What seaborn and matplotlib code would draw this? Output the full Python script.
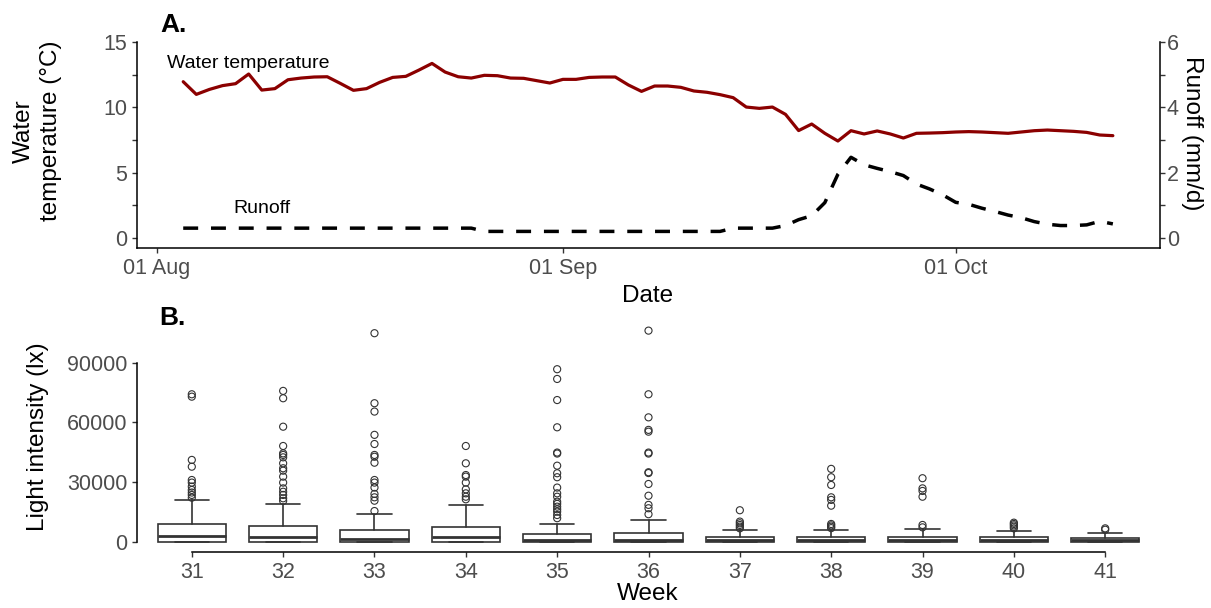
import matplotlib
matplotlib.use("Agg")
import matplotlib.pyplot as plt
import matplotlib.dates as mdates
from matplotlib.ticker import FixedLocator
import numpy as np
import pandas as pd
import seaborn as sns

# ---------------- data ----------------
dates = pd.date_range("2019-08-03", "2019-10-13", freq="D")

water_temp = [11.96, 10.99, 11.37, 11.66, 11.81, 12.55, 11.32, 11.43, 12.11, 12.24,
              12.32, 12.34, 11.83, 11.30, 11.43, 11.91, 12.29, 12.37, 12.85, 13.36,
              12.70, 12.34, 12.24, 12.45, 12.42, 12.24, 12.22, 12.04, 11.86, 12.14,
              12.14, 12.29, 12.32, 12.32, 11.71, 11.22, 11.63, 11.63, 11.53, 11.25,
              11.15, 10.97, 10.74, 10.02, 9.92, 10.02, 9.46, 8.22, 8.72, 8.01,
              7.42, 8.21, 7.96, 8.19, 7.96, 7.65, 8.01, 8.03, 8.06, 8.11,
              8.14, 8.11, 8.06, 8.01, 8.11, 8.21, 8.26, 8.21, 8.16, 8.08,
              7.88, 7.83]

runoff = [0.30, 0.30, 0.30, 0.30, 0.30, 0.30, 0.30, 0.30, 0.30, 0.30,
          0.30, 0.30, 0.30, 0.30, 0.30, 0.30, 0.30, 0.30, 0.30, 0.30,
          0.30, 0.30, 0.30, 0.20, 0.20, 0.20, 0.20, 0.20, 0.20, 0.20,
          0.20, 0.20, 0.20, 0.20, 0.20, 0.20, 0.20, 0.20, 0.20, 0.20,
          0.20, 0.20, 0.30, 0.30, 0.30, 0.30, 0.38, 0.56, 0.68, 1.08,
          1.95, 2.47, 2.24, 2.13, 2.03, 1.91, 1.65, 1.50, 1.32, 1.09,
          1.03, 0.91, 0.81, 0.70, 0.62, 0.50, 0.42, 0.38, 0.38, 0.40,
          0.51, 0.43]

weeks = [31, 32, 33, 34, 35, 36, 37, 38, 39, 40, 41]
week_labels = ["31", "32", "33", "34", "35", "36", "37", "38", "39", "40", "41"]
light_q1 = [0, 0, 0, 0, 0, 0, 0, 0, 0, 0, 0]
light_median = [3000, 2200, 1500, 2200, 850, 850, 700, 700, 700, 700, 700]
light_q3 = [8750, 7900, 5900, 7550, 3870, 4550, 2500, 2350, 2500, 2350, 2000]
light_whisker_low = [0, 0, 0, 0, 0, 0, 0, 0, 0, 0, 0]
light_whisker_high = [20970, 18950, 13800, 18600, 9050, 10900, 5900, 5700, 6200, 5400, 4350]

outliers_31 = [74100, 72900, 41100, 37700, 31000, 29700, 27700, 26000, 24700, 23500, 22100]
outliers_32 = [75800, 72100, 57800, 48100, 44400, 43600, 42400, 39400, 36900, 35700,
               32700, 29700, 26800, 25100, 23500, 21800, 20500]
outliers_33 = [104800, 69600, 65400, 53700, 49100, 43600, 42700, 39700, 31000, 29700,
               27200, 24000, 22300, 20600, 15400]
outliers_34 = [48100, 39400, 33500, 32700, 29700, 26300, 24300, 22600, 21300]
outliers_35 = [86700, 81800, 71200, 57500, 44800, 44300, 38200, 34400, 32400, 27200,
               24300, 22600, 20100, 19000, 17600, 16300, 15100, 13400, 11800]
outliers_36 = [106100, 74100, 62500, 56200, 55300, 44800, 44300, 34900, 34500, 29000,
               23100, 18500, 16800, 13800]
outliers_37 = [15800, 10100, 9250, 8400, 7550, 6700]
outliers_38 = [36600, 32400, 28500, 22300, 21000, 18100, 8900, 8200, 7500, 6800]
outliers_39 = [31900, 26800, 25500, 22600, 8400, 7200]
outliers_40 = [9550, 8900, 8200, 7500, 6700]
outliers_41 = [6700, 6000]
outliers = [outliers_31, outliers_32, outliers_33, outliers_34, outliers_35, outliers_36,
            outliers_37, outliers_38, outliers_39, outliers_40, outliers_41]

temp_ticks = [0, 5, 10, 15]
runoff_ticks = [0, 2, 4, 6]
light_ticks = [0, 30000, 60000, 90000]
light_tick_labels = ["0", "30000", "60000", "90000"]

# ---------------- style ----------------
sns.set_theme(style="ticks")
plt.rcParams["font.family"] = ["Liberation Sans", "DejaVu Sans"]
plt.rcParams["text.color"] = "black"

W, H = 1211, 608
fig = plt.figure(figsize=(W / 100, H / 100), dpi=100)

AX_COL = "#000000"
TICK_COL = "#333333"
LAB_COL = "#4D4D4D"
TICK_FS = 15.5
TITLE_FS = 17.5


def px(x, y):
    return x / W, 1 - y / H


def style_ticks(ax):
    ax.tick_params(which="both", length=3.5, width=1.0, color=TICK_COL,
                   labelcolor=LAB_COL, labelsize=TICK_FS, pad=3.5)


# ---------------- panel A ----------------
axA = fig.add_axes([137 / W, 1 - 248 / H, (1160 - 137) / W, (248 - 42) / H])
sns.lineplot(x=dates, y=water_temp, color="#8B0000", linewidth=2.3, ax=axA)
axA.set_ylim(-0.77, 15)
axA.set_xlim(pd.Timestamp("2019-08-01") - pd.Timedelta(days=1.53),
             pd.Timestamp("2019-08-01") + pd.Timedelta(days=76.6))
axA.set_yticks(temp_ticks)
axA.yaxis.set_minor_locator(FixedLocator([2.5, 7.5, 12.5]))
axA.xaxis.set_major_locator(mdates.MonthLocator(bymonthday=1))
axA.xaxis.set_major_formatter(mdates.DateFormatter("%d %b"))
axA.set_xlabel("")
axA.set_ylabel("")
for s in ["top", "right"]:
    axA.spines[s].set_visible(False)
for s in ["left", "bottom"]:
    axA.spines[s].set_color(AX_COL)
    axA.spines[s].set_linewidth(1.1)
style_ticks(axA)

axR = axA.twinx()
sns.lineplot(x=dates, y=runoff, color="black", linewidth=2.5, ax=axR)
axR.lines[0].set_dashes((4.3, 3.7))
axR.lines[0].set_dash_capstyle("butt")
axR.set_ylim(-0.77 / 2.5, 6)
axR.set_yticks(runoff_ticks)
axR.yaxis.set_minor_locator(FixedLocator([1, 3, 5]))
axR.set_ylabel("")
for s in ["top", "left", "bottom"]:
    axR.spines[s].set_visible(False)
axR.spines["right"].set_color(AX_COL)
axR.spines["right"].set_linewidth(1.1)
style_ticks(axR)
axR.tick_params(axis="y", pad=1.5)

axA.text(pd.Timestamp("2019-08-08"), 12.98, "Water temperature", ha="center",
         va="baseline", fontsize=14, color="black")
axA.text(pd.Timestamp("2019-08-09"), 1.91, "Runoff", ha="center",
         va="baseline", fontsize=14, color="black")

fig.text(*px(648, 302), "Date", ha="center", va="baseline", fontsize=TITLE_FS)
fig.text(*px(37.5, 131), "Water\ntemperature (\u00b0C)", rotation=90, ha="center",
         va="center", multialignment="center", fontsize=TITLE_FS, linespacing=1.3)
fig.text(*px(1192, 133), "Runoff (mm/d)", rotation=270, ha="center", va="center",
         fontsize=TITLE_FS)
fig.text(*px(160, 32), "A.", fontweight="bold", fontsize=19, ha="left", va="baseline")

# ---------------- panel B ----------------
axB = fig.add_axes([137 / W, 1 - 552.3 / H, (1160 - 137) / W, (552.3 - 318.4) / H])
stats = []
for i in range(len(weeks)):
    stats.append(dict(med=light_median[i], q1=light_q1[i], q3=light_q3[i],
                      whislo=light_whisker_low[i], whishi=light_whisker_high[i],
                      fliers=[]))
box_col = "#333333"
axB.bxp(stats, positions=weeks, widths=0.75, capwidths=0.375, showfliers=False,
        patch_artist=True, manage_ticks=False,
        boxprops=dict(facecolor="white", edgecolor=box_col, linewidth=1.2),
        medianprops=dict(color=box_col, linewidth=2.0, solid_capstyle="butt"),
        whiskerprops=dict(color=box_col, linewidth=1.2),
        capprops=dict(color=box_col, linewidth=1.2))

flier_df = pd.DataFrame({
    "week": [w for w, vals in zip(weeks, outliers) for _ in vals],
    "lux": [v for vals in outliers for v in vals],
})
sns.scatterplot(data=flier_df, x="week", y="lux", ax=axB, marker="o", s=26,
                facecolor="none", edgecolor=box_col, linewidth=0.8, zorder=3)

axB.set_xlim(30.4, 41.6)
axB.set_ylim(-5345, 112245)
axB.set_xticks(weeks)
axB.set_xticklabels(week_labels)
axB.set_yticks(light_ticks)
axB.set_yticklabels(light_tick_labels)
axB.set_xlabel("")
axB.set_ylabel("")
for s in ["top", "right"]:
    axB.spines[s].set_visible(False)
for s in ["left", "bottom"]:
    axB.spines[s].set_color(AX_COL)
    axB.spines[s].set_linewidth(1.1)
axB.spines["left"].set_bounds(0, 90000)
axB.spines["bottom"].set_bounds(31, 41)
style_ticks(axB)

fig.text(*px(648, 600.5), "Week", ha="center", va="baseline", fontsize=TITLE_FS)
fig.text(*px(38.5, 437), "Light intensity (lx)", rotation=90, ha="center",
         va="center", fontsize=TITLE_FS)
fig.text(*px(159, 325), "B.", fontweight="bold", fontsize=19, ha="left", va="baseline")

fig.savefig("out.png", dpi=100, facecolor="white")
